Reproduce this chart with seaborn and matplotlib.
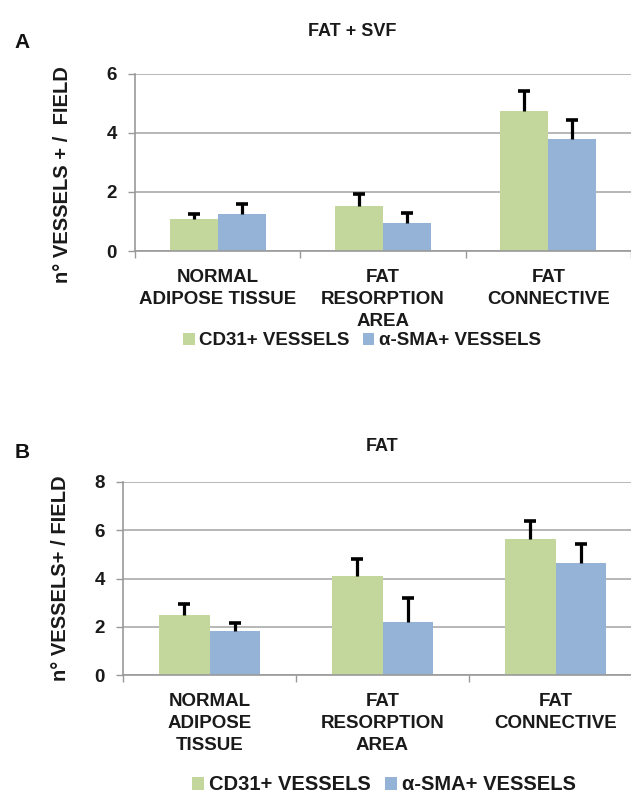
import numpy as np
import pandas as pd
import matplotlib
matplotlib.use("Agg")
import matplotlib.pyplot as plt
import seaborn as sns
from matplotlib.patches import Patch

# ---------------- data ----------------
series = ["CD31+ VESSELS", "α-SMA+ VESSELS"]
cats_a = ["NORMAL\nADIPOSE TISSUE", "FAT\nRESORPTION\nAREA", "FAT\nCONNECTIVE"]
cats_b = ["NORMAL\nADIPOSE\nTISSUE", "FAT\nRESORPTION\nAREA", "FAT\nCONNECTIVE"]

a_cd31 = [1.08, 1.53, 4.75]
a_cd31_err = [0.17, 0.40, 0.67]
a_sma = [1.25, 0.95, 3.80]
a_sma_err = [0.35, 0.34, 0.64]

b_cd31 = [2.48, 4.10, 5.62]
b_cd31_err = [0.45, 0.70, 0.78]
b_sma = [1.82, 2.19, 4.63]
b_sma_err = [0.33, 0.99, 0.82]

a_yticks = [0, 2, 4, 6]
b_yticks = [0, 2, 4, 6, 8]

colors = ["#C3D69B", "#95B3D7"]

sns.set_style("white")
plt.rcParams["font.family"] = ["Liberation Sans", "DejaVu Sans"]
plt.rcParams["font.weight"] = "bold"

W, H = 631, 796
fig = plt.figure(figsize=(W / 100, H / 100), dpi=100)
TXT = "#1a1a1a"


def px(x0, y_top, x1, y_bot):
    return [x0 / W, 1 - y_bot / H, (x1 - x0) / W, (y_bot - y_top) / H]


def panel(ax, cats, v1, e1, v2, e2, yticks, ylabel):
    df = pd.DataFrame({
        "cat": list(cats) * 2,
        "val": list(v1) + list(v2),
        "series": [series[0]] * len(cats) + [series[1]] * len(cats),
    })
    sns.barplot(data=df, x="cat", y="val", hue="series", palette=colors,
                width=0.58, gap=0, ax=ax, legend=False, errorbar=None,
                saturation=1, linewidth=0)
    bars = [p for p in ax.patches if p.get_height() > 0]
    bars = sorted(bars, key=lambda p: p.get_x())
    errs = []
    for i in range(len(cats)):
        errs += [e1[i], e2[i]]
    xs = np.array([p.get_x() + p.get_width() / 2 for p in bars])
    hs = np.array([p.get_height() for p in bars])
    tops = hs + np.array(errs)
    ax.vlines(xs, hs, tops, color="black", linewidth=2.3, zorder=3)
    ax.plot(xs, tops, ls="none", marker="_", ms=9, mew=2.6, color="black",
            zorder=3)
    ax.set_xlim(-0.5, len(cats) - 0.5)
    ax.set_ylim(yticks[0], yticks[-1])
    ax.set_yticks(yticks)
    ax.set_yticklabels([str(t) for t in yticks], fontsize=13.5,
                       fontweight="bold", color=TXT)
    ax.set_xticks(range(len(cats)))
    ax.set_xticklabels(cats, fontsize=13.5, fontweight="bold",
                       linespacing=1.38, color=TXT)
    ax.set_xticks(np.arange(-0.5, len(cats) - 0.4, 1), minor=True)
    ax.tick_params(axis="x", which="major", length=0, pad=13)
    ax.tick_params(axis="x", which="minor", length=5, color="#999999",
                   width=1, direction="out", bottom=True)
    ax.tick_params(axis="y", which="major", length=5, color="#999999",
                   width=1, direction="out", left=True, pad=8)
    ax.yaxis.grid(True, color="#AAAAAA", linewidth=1.2)
    ax.set_axisbelow(True)
    for s in ["top", "right"]:
        ax.spines[s].set_visible(False)
    for s in ["left", "bottom"]:
        ax.spines[s].set_color("#999999")
        ax.spines[s].set_linewidth(1.2)
    ax.set_xlabel("")
    ax.set_ylabel(ylabel, fontsize=14.5, fontweight="bold", color=TXT)


ax_a = fig.add_axes(px(135, 74, 631, 251))
panel(ax_a, cats_a, a_cd31, a_cd31_err, a_sma, a_sma_err, a_yticks,
      "n° VESSELS + /  FIELD")
ax_a.yaxis.set_label_coords(-(135 - 72) / 496, 0.43)

ax_b = fig.add_axes(px(123, 482, 642, 675))
panel(ax_b, cats_b, b_cd31, b_cd31_err, b_sma, b_sma_err, b_yticks,
      "n° VESSELS+ / FIELD")
ax_b.yaxis.set_label_coords(-(123 - 70) / 519, 0.50)

fig.text(352 / W, 1 - 32 / H, "FAT + SVF", ha="center", va="center",
         fontsize=13, fontweight="bold", color=TXT)
fig.text(382 / W, 1 - 446 / H, "FAT", ha="center", va="center",
         fontsize=13, fontweight="bold", color=TXT)
fig.text(22 / W, 1 - 42 / H, "A", ha="center", va="center",
         fontsize=15, fontweight="bold", color="#111111")
fig.text(22 / W, 1 - 453 / H, "B", ha="center", va="center",
         fontsize=15, fontweight="bold", color="#111111")

handles = [Patch(facecolor=c, edgecolor="none", label=s)
           for c, s in zip(colors, series)]
for (cx, cy, fs) in [(362, 341, 13.5), (384, 785, 14.5)]:
    fig.legend(handles=handles, loc="center", ncol=2,
               bbox_to_anchor=(cx / W, 1 - cy / H), frameon=False,
               prop={"size": fs, "weight": "bold"},
               handlelength=0.6, handleheight=0.6, handletextpad=0.25,
               columnspacing=0.7, labelcolor=TXT, borderpad=0.1)

fig.savefig("out.png", dpi=100)
